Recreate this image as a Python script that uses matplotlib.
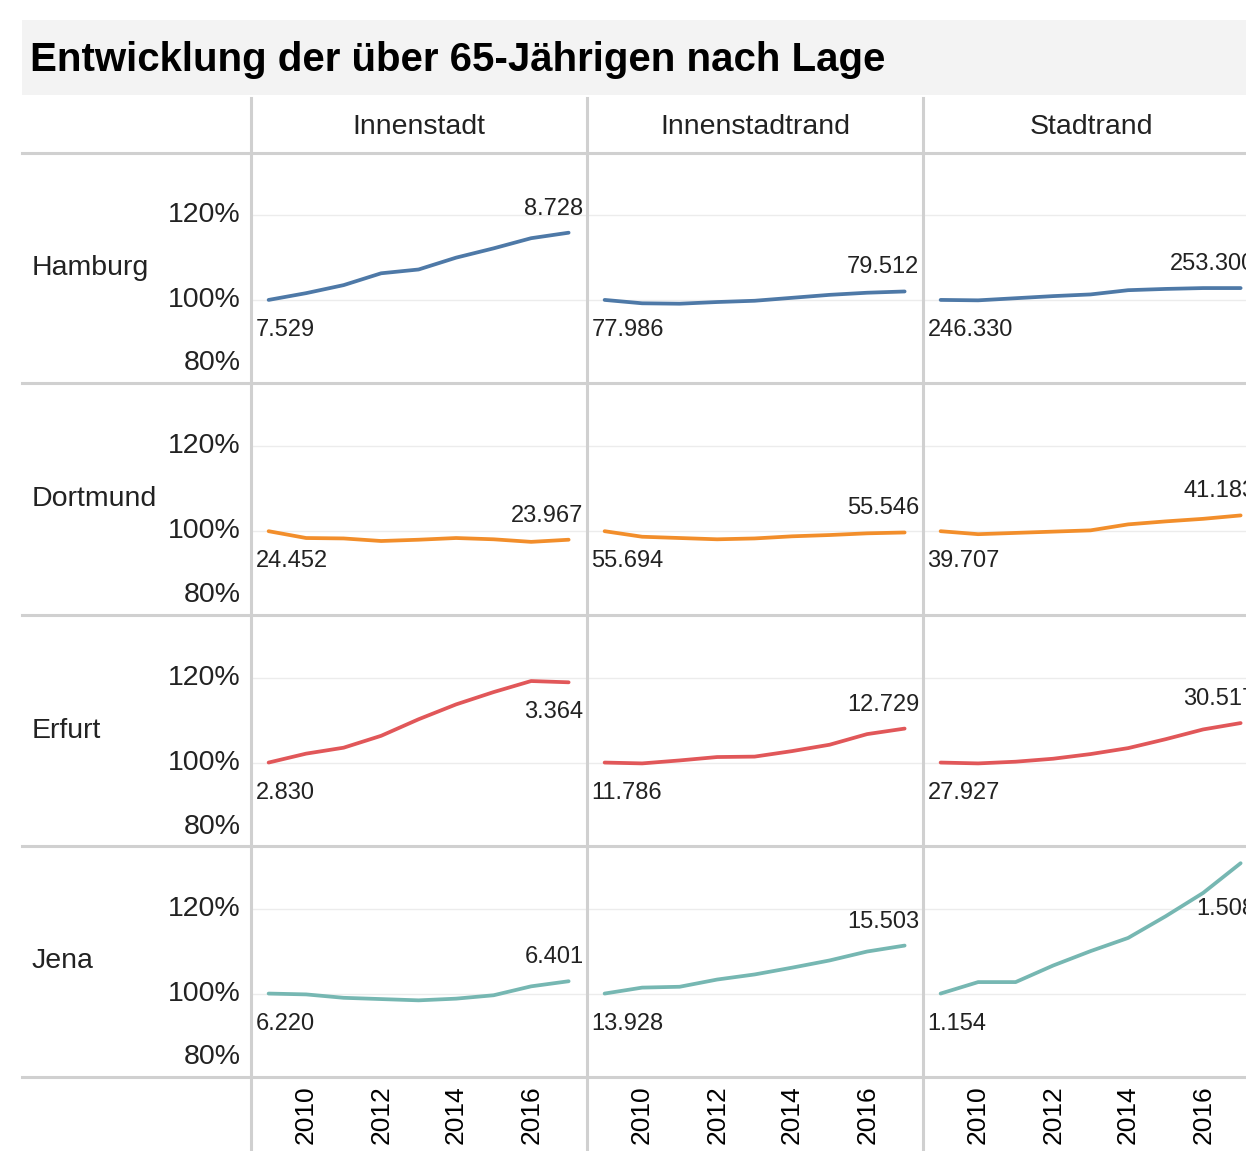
import numpy as np
import matplotlib
matplotlib.use("Agg")
import matplotlib.pyplot as plt
from matplotlib.lines import Line2D
from matplotlib.patches import Rectangle

plt.rcParams['font.family'] = ['Liberation Sans', 'DejaVu Sans']

# Daten: Index der über 65-Jährigen (2009 = 100 %)
years = [2009, 2010, 2011, 2012, 2013, 2014, 2015, 2016, 2017]
cities = ["Hamburg", "Dortmund", "Erfurt", "Jena"]
lagen = ["Innenstadt", "Innenstadtrand", "Stadtrand"]

hamburg_innenstadt = [100, 101.6, 103.5, 106.3, 107.2, 110.0, 112.2, 114.6, 115.9]
hamburg_innenstadtrand = [100, 99.2, 99.1, 99.5, 99.8, 100.5, 101.2, 101.7, 102.0]
hamburg_stadtrand = [100, 99.9, 100.4, 100.9, 101.3, 102.3, 102.6, 102.8, 102.8]

dortmund_innenstadt = [100, 98.4, 98.3, 97.7, 98.0, 98.4, 98.1, 97.5, 98.0]
dortmund_innenstadtrand = [100, 98.7, 98.4, 98.1, 98.3, 98.8, 99.1, 99.5, 99.7]
dortmund_stadtrand = [100, 99.3, 99.6, 99.9, 100.2, 101.6, 102.3, 102.9, 103.7]

erfurt_innenstadt = [100, 102.1, 103.5, 106.3, 110.2, 113.7, 116.6, 119.2, 118.9]
erfurt_innenstadtrand = [100, 99.8, 100.5, 101.3, 101.4, 102.7, 104.2, 106.7, 108.0]
erfurt_stadtrand = [100, 99.8, 100.2, 100.9, 102.0, 103.4, 105.5, 107.8, 109.3]

jena_innenstadt = [100, 99.8, 99.0, 98.7, 98.4, 98.8, 99.6, 101.7, 102.9]
jena_innenstadtrand = [100, 101.4, 101.6, 103.3, 104.5, 106.1, 107.8, 109.9, 111.3]
jena_stadtrand = [100, 102.7, 102.7, 106.6, 110.0, 113.1, 118.2, 123.7, 130.7]

# Anzahl im ersten und letzten Jahr
start_labels = [["7.529", "77.986", "246.330"],
                ["24.452", "55.694", "39.707"],
                ["2.830", "11.786", "27.927"],
                ["6.220", "13.928", "1.154"]]
end_labels = [["8.728", "79.512", "253.300"],
              ["23.967", "55.546", "41.183"],
              ["3.364", "12.729", "30.517"],
              ["6.401", "15.503", "1.508"]]

series = [[hamburg_innenstadt, hamburg_innenstadtrand, hamburg_stadtrand],
          [dortmund_innenstadt, dortmund_innenstadtrand, dortmund_stadtrand],
          [erfurt_innenstadt, erfurt_innenstadtrand, erfurt_stadtrand],
          [jena_innenstadt, jena_innenstadtrand, jena_stadtrand]]

colors = ["#4e79a7", "#f28e2b", "#e15759", "#76b7b2"]

W, H = 1246, 1151
fig = plt.figure(figsize=(W / 100, H / 100), dpi=100)

def fx(px):
    return px / W

def fy(py):
    return 1 - py / H

sep_col = "#d0d0d0"
txt_col = "#222222"

# title band
fig.add_artist(Rectangle((fx(22), fy(95)), fx(1246) - fx(22), (95 - 20) / H,
                         transform=fig.transFigure, color="#f3f3f3", lw=0, zorder=0))
fig.text(fx(30), fy(60), "Entwicklung der über 65-Jährigen nach Lage",
         fontsize=29, fontweight="bold", ha="left", va="center", color="black")

row_sep = [153, 383, 615, 846, 1077]
col_sep = [251, 587, 923, 1259]

for y in row_sep:
    fig.add_artist(Line2D([fx(22), fx(1246)], [fy(y), fy(y)], transform=fig.transFigure,
                          color=sep_col, lw=2.2, zorder=5))
for x in col_sep[:3]:
    fig.add_artist(Line2D([fx(x), fx(x)], [fy(98), fy(1151)], transform=fig.transFigure,
                          color=sep_col, lw=2.2, zorder=5))

for c, lage in enumerate(lagen):
    fig.text(fx((col_sep[c] + col_sep[c + 1]) / 2), fy(127), lage, fontsize=20.5,
             ha="center", va="center", color=txt_col)

for r, city in enumerate(cities):
    fig.text(fx(32), fy((row_sep[r] + row_sep[r + 1]) / 2), city, fontsize=20.5,
             ha="left", va="center", color=txt_col)
    for c in range(3):
        left = col_sep[c] + 1.5
        right = col_sep[c + 1] - 1.5
        top = row_sep[r] + 1.5
        bottom = row_sep[r + 1] - 1.5
        ax = fig.add_axes([fx(left), fy(bottom), (right - left) / W, (bottom - top) / H])
        vals = series[r][c]
        ax.plot(years, vals, color=colors[r], lw=2.7, solid_capstyle="round", zorder=3)
        for g in [100, 120]:
            ax.axhline(g, color="#ececec", lw=1, zorder=1)
        ax.set_xlim(2008.57, 2017.45)
        ax.set_ylim(80.7, 134.4)
        for s in ax.spines.values():
            s.set_visible(False)
        ax.tick_params(length=0)
        ax.set_yticks([])
        if r == 3:
            ax.set_xticks([2010, 2012, 2014, 2016])
            ax.set_xticklabels(["2010", "2012", "2014", "2016"], rotation=90,
                               fontsize=19, color="black")
            ax.tick_params(axis="x", pad=7)
        else:
            ax.set_xticks([])

        # Beschriftung Start / Ende
        ax.annotate(start_labels[r][c], xy=(0, vals[0]), xycoords=("axes fraction", "data"),
                    xytext=(3, -30), textcoords="offset pixels", ha="left", va="center",
                    fontsize=17, color=txt_col, annotation_clip=False)
        if vals[-1] > 117:
            dy = -30 - 2.3 * max(0, vals[-1] - vals[-2])
        else:
            dy = 24
        ax.annotate(end_labels[r][c], xy=(1, vals[-1]), xycoords=("axes fraction", "data"),
                    xytext=(-2, dy), textcoords="offset pixels", ha="right", va="center",
                    fontsize=17, color=txt_col, annotation_clip=False)

        if c == 0:
            for v in [120, 100]:
                ax.annotate(f"{v}%", xy=(0, v), xycoords=("axes fraction", "data"),
                            xytext=(-12, 0), textcoords="offset pixels", ha="right",
                            va="center", fontsize=20.5, color=txt_col, annotation_clip=False)
            ax.annotate("80%", xy=(0, 0), xycoords="axes fraction",
                        xytext=(-12, 18), textcoords="offset pixels", ha="right",
                        va="center", fontsize=20.5, color=txt_col, annotation_clip=False)

fig.savefig("out.png", dpi=100, facecolor="white")
